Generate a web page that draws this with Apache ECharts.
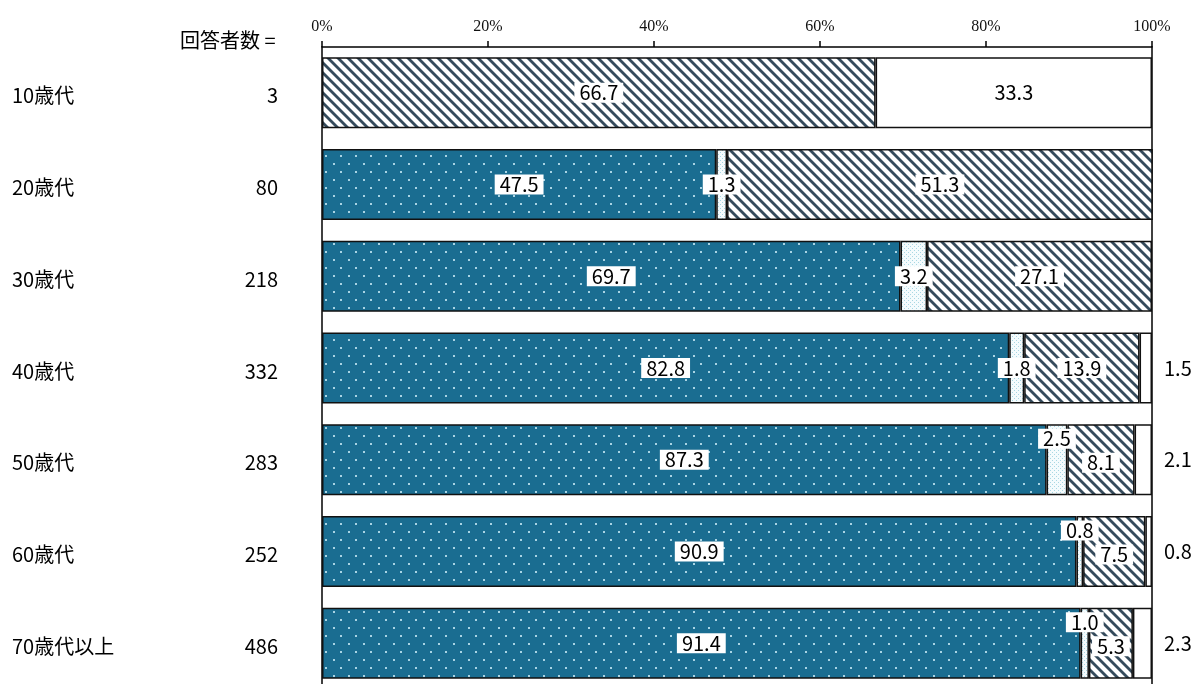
<!DOCTYPE html>
<html>
<head>
<meta charset="utf-8">
<script src="https://cdn.jsdelivr.net/npm/echarts@6/dist/echarts.min.js"></script>
<style>
html,body{margin:0;padding:0;background:#fff;}
#chart{width:1193px;height:684px;}
</style>
</head>
<body>
<div id="chart"></div>
<script>
// ---- data ----
const categories = ['10歳代', '20歳代', '30歳代', '40歳代', '50歳代', '60歳代', '70歳代以上'];
const counts = [3, 80, 218, 332, 283, 252, 486];
const seriesTeal = [null, 47.5, 69.7, 82.8, 87.3, 90.9, 91.4];
const seriesLight = [null, 1.3, 3.2, 1.8, 2.5, 0.8, 1.0];
const seriesHatched = [66.7, 51.3, 27.1, 13.9, 8.1, 7.5, 5.3];
const seriesWhite = [33.3, null, null, 1.5, 2.1, 0.8, 2.3];
const xTicks = [0, 20, 40, 60, 80, 100];
const headerText = '回答者数 =';

// ---- patterns ----
function makeCanvas(w, h) {
  const c = document.createElement('canvas');
  c.width = w; c.height = h;
  return c;
}
function tealPattern() {
  const c = makeCanvas(15, 16);
  const g = c.getContext('2d');
  g.fillStyle = '#1a6d91';
  g.fillRect(0, 0, 15, 16);
  g.fillStyle = '#a9d4e4';
  g.fillRect(3, 3, 2, 2);
  g.fillRect(10, 11, 2, 2);
  return c;
}
function lightPattern() {
  const c = makeCanvas(4, 4);
  const g = c.getContext('2d');
  g.fillStyle = '#f4fbfd';
  g.fillRect(0, 0, 4, 4);
  g.fillStyle = '#a8d7e3';
  g.fillRect(0, 0, 1, 1);
  g.fillRect(2, 2, 1, 1);
  return c;
}
function hatchPattern() {
  const s = 20;
  const c = makeCanvas(s, s);
  const g = c.getContext('2d');
  g.fillStyle = '#ffffff';
  g.fillRect(0, 0, s, s);
  g.strokeStyle = '#354b5c';
  g.lineWidth = 2.8;
  for (let k = -3; k <= 3; k++) {
    g.beginPath();
    g.moveTo(k * 10 - 5, -5);
    g.lineTo(k * 10 + s + 5, s + 5);
    g.stroke();
  }
  return c;
}

const labelFont = '"Noto Sans CJK JP", "Noto Sans", sans-serif';
const baseLabel = {
  show: true,
  position: 'inside',
  color: '#000',
  fontFamily: labelFont,
  fontSize: 20,
  lineHeight: 20,
  backgroundColor: '#fff',
  padding: [0, 5],
  formatter: p => p.value == null ? '' : Number(p.value).toFixed(1)
};
const border = { borderColor: '#111', borderWidth: 1.5 };

function buildData(arr, labelFn) {
  return arr.map((v, i) => {
    if (v == null) return null;
    const lab = labelFn ? labelFn(v, i) : null;
    return lab ? { value: v, label: lab } : v;
  });
}

const series = [
  {
    name: '系列1', type: 'bar', stack: 'total', barWidth: 71,
    itemStyle: Object.assign({ color: { image: tealPattern(), repeat: 'repeat' } }, border),
    label: baseLabel,
    data: buildData(seriesTeal)
  },
  {
    name: '系列2', type: 'bar', stack: 'total', barWidth: 71,
    itemStyle: Object.assign({ color: { image: lightPattern(), repeat: 'repeat' } }, border),
    label: baseLabel,
    data: buildData(seriesLight, (v, i) => seriesHatched[i] < 10 ? { offset: [0, -21] } : null)
  },
  {
    name: '系列3', type: 'bar', stack: 'total', barWidth: 71,
    itemStyle: Object.assign({ color: { image: hatchPattern(), repeat: 'repeat' } }, border),
    label: baseLabel,
    data: buildData(seriesHatched, (v, i) => v < 10 ? { offset: [0, 3] } : null)
  },
  {
    name: '系列4', type: 'bar', stack: 'total', barWidth: 71,
    itemStyle: Object.assign({ color: '#ffffff' }, border),
    label: baseLabel,
    data: buildData(seriesWhite, (v, i) => v < 5 ? { position: 'right', distance: 12, backgroundColor: 'transparent', padding: 0 } : null)
  }
];

const chart = echarts.init(document.getElementById('chart'), null, { renderer: 'canvas' });
chart.setOption({
  backgroundColor: '#fff',
  animation: false,
  grid: { left: 322, width: 830, top: 47, height: 642, containLabel: false, outerBoundsMode: 'none' },
  xAxis: {
    type: 'value', position: 'top', min: xTicks[0], max: xTicks[xTicks.length - 1],
    interval: xTicks[1] - xTicks[0],
    axisLine: { show: true, lineStyle: { color: '#000', width: 1.5 } },
    axisTick: { show: true, length: 6, lineStyle: { color: '#000', width: 1.5 } },
    axisLabel: {
      formatter: '{value}%', fontFamily: '"Liberation Serif", "DejaVu Serif", serif',
      fontSize: 16, color: '#111', margin: 12
    },
    splitLine: { show: false }
  },
  yAxis: [
    {
      type: 'category', data: categories, inverse: true,
      axisLine: { show: true, lineStyle: { color: '#000', width: 1.5 } },
      axisTick: { show: false },
      axisLabel: {
        margin: 44,
        padding: [6, 0, 0, 0],
        formatter: (val, idx) => '{a|' + val + '}{b|' + counts[idx] + '}',
        rich: {
          a: { width: 200, align: 'left', fontSize: 20, fontFamily: labelFont, color: '#000' },
          b: { width: 66, align: 'right', fontSize: 20, fontFamily: labelFont, color: '#000' }
        }
      }
    },
    {
      type: 'category', data: categories, inverse: true, position: 'right',
      axisLine: { show: true, lineStyle: { color: '#000', width: 1.5 } },
      axisTick: { show: false },
      axisLabel: { show: false }
    }
  ],
  graphic: [
    {
      type: 'text', left: 180, top: 30,
      style: { text: headerText, font: '20px "Noto Sans CJK JP", sans-serif', fill: '#000' }
    }
  ],
  series: series
});
</script>
</body>
</html>
